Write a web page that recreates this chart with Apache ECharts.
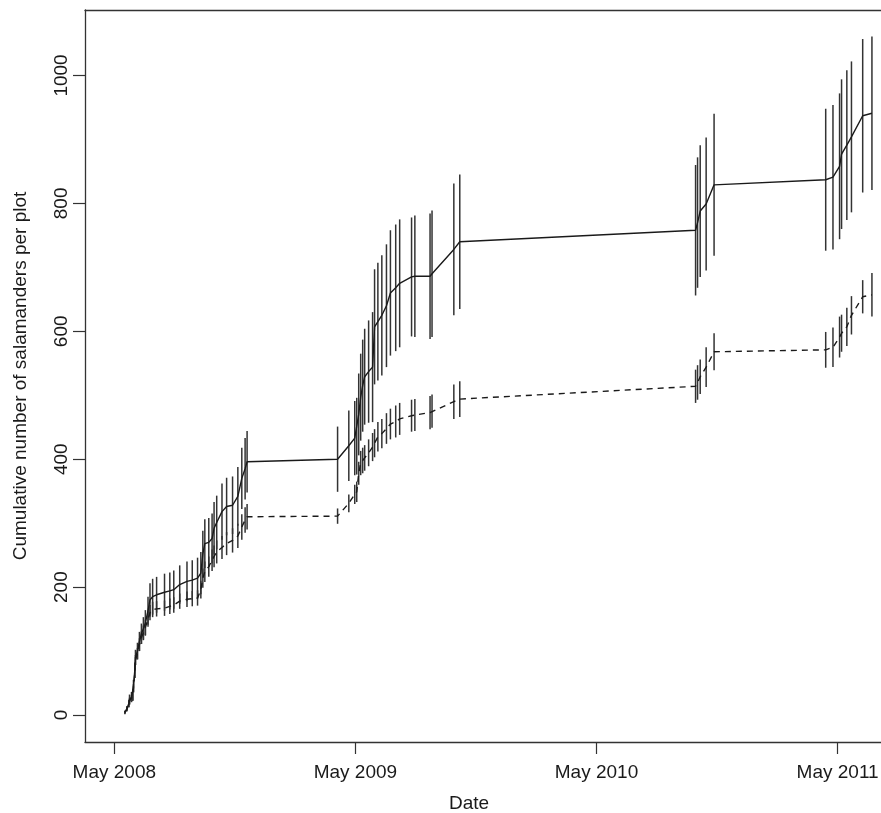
<!DOCTYPE html>
<html><head><meta charset="utf-8">
<script src="https://cdn.jsdelivr.net/npm/echarts@6/dist/echarts.min.js"></script>
<style>html,body{margin:0;padding:0;background:#fff;overflow:hidden}#c{width:881px;height:813px}</style>
</head><body><div id="c"></div>
<script>
// survey dates
const dates = [
'2008-05-17','2008-05-20','2008-05-23','2008-05-24','2008-05-27','2008-05-29','2008-05-30','2008-06-01','2008-06-02','2008-06-05',
'2008-06-08','2008-06-11','2008-06-14','2008-06-17','2008-06-21','2008-06-24','2008-06-28','2008-07-04','2008-07-16','2008-07-24',
'2008-07-30','2008-08-08','2008-08-19','2008-08-27','2008-09-04','2008-09-09','2008-09-12','2008-09-15','2008-09-21','2008-09-26',
'2008-09-29','2008-10-03','2008-10-11','2008-10-18','2008-10-27','2008-11-04','2008-11-10','2008-11-15','2008-11-18',
'2009-04-04','2009-04-21','2009-04-30','2009-05-03','2009-05-06','2009-05-09','2009-05-12','2009-05-15','2009-05-21','2009-05-27',
'2009-05-30','2009-06-04','2009-06-10','2009-06-17','2009-06-23','2009-07-01','2009-07-07','2009-07-25','2009-07-30','2009-08-22',
'2009-08-25','2009-09-27','2009-10-06',
'2010-09-28','2010-10-01','2010-10-05','2010-10-14','2010-10-26',
'2011-04-13','2011-04-24','2011-05-04','2011-05-07','2011-05-15','2011-05-22','2011-06-08','2011-06-22'
];
// solid line series: mean and half-width of error bar
const solidMean = [
4,10,18,24,28,31,45,70,90,100,
115,127,135,144,163,180,185,188,192,194,
196,204,209,211,214,222,252,268,270,276,
292,301,318,326,328,342,370,385,396,
400,421,433,436,470,497,515,529,537,544,
607,615,625,640,660,668,675,685,686,686,
690,728,740,
758,770,788,799,829,
837,841,858,877,891,904,937,941
];
const solidErr = [
3,4,6,8,8,9,10,12,12,13,
15,16,18,20,22,26,28,28,29,29,
30,30,31,31,32,33,36,38,38,39,
41,42,44,45,45,46,48,48,48,
51,55,58,60,64,68,72,75,80,86,
90,92,94,96,98,99,100,93,95,98,
99,103,105,
102,102,103,104,111,
111,113,114,117,117,118,120,120
];
// dashed line series
const dashMean = [
4,9,16,22,26,29,42,66,86,96,
110,121,129,137,150,160,165,166,167,170,
172,178,181,182,183,196,214,224,232,242,
248,255,262,268,273,280,294,305,310,
311,331,345,349,378,394,398,402,410,419,
425,435,440,448,455,459,463,468,469,473,
475,490,494,
514,520,529,544,568,
571,575,591,597,607,625,654,657
];
const dashErr = [
2,3,4,5,5,6,6,8,8,9,
10,10,11,12,12,12,12,12,12,12,
12,12,12,12,12,14,15,16,16,17,
17,18,18,18,19,19,20,20,20,
12,14,15,16,18,19,20,20,21,22,
22,23,23,24,24,25,25,25,25,26,
26,27,28,
26,27,27,31,29,
28,31,32,29,30,30,26,34
];
// axis ticks
const xTickDates = ['2008-05-01','2009-05-01','2010-05-01','2011-05-01'];
const xTickLabels = ['May 2008','May 2009','May 2010','May 2011'];
const yTicks = [0,200,400,600,800,1000];

const DAY = 864e5, T0 = Date.UTC(2008,4,1);
const toDay = s => (Date.parse(s + 'T00:00:00Z') - T0) / DAY;
const xs = dates.map(toDay);
const xTickDays = xTickDates.map(toDay);
const lineData = m => xs.map((x,i)=>[x, m[i]]);
const barData = (m,e) => xs.map((x,i)=>[x, m[i]-e[i], m[i]+e[i]]);

function errRender(params, api){
  const x = api.value(0), lo = api.value(1), hi = api.value(2);
  const p1 = api.coord([x, lo]), p2 = api.coord([x, hi]);
  return {type:'line', shape:{x1:p1[0],y1:p1[1],x2:p2[0],y2:p2[1]},
          style:{stroke:'#333', lineWidth:1.5}};
}

const FONT = 'Liberation Sans, Arial, Helvetica, sans-serif';
const TXT = '#1a1a1a';
const AX = {color:'#333', width:1.3};
const chart = echarts.init(document.getElementById('c'), null, {renderer:'canvas'});
chart.setOption({
  animation:false,
  backgroundColor:'#fff',
  grid:{left:85, top:10, width:816, height:732, outerBoundsMode:'none', containLabel:false, show:false},
  xAxis:[{
    type:'value', min:-44.4, max:1191, position:'bottom',
    name:'Date', nameLocation:'middle', nameGap:52,
    nameTextStyle:{fontFamily:FONT, fontSize:19, color:TXT, padding:[0,48,0,0]},
    axisLine:{show:true, onZero:false, lineStyle:AX},
    splitLine:{show:false},
    axisTick:{show:true, inside:false, length:12, customValues:xTickDays, lineStyle:{color:'#333', width:1.2}},
    axisLabel:{customValues:xTickDays, margin:21, fontFamily:FONT, fontSize:19, color:TXT,
      formatter:v=>{const i=xTickDays.findIndex(d=>Math.abs(d-v)<0.5);return i>=0?xTickLabels[i]:'';}}
  },{
    type:'value', min:-44.4, max:1191, position:'top',
    axisLine:{show:true, onZero:false, lineStyle:AX},
    axisTick:{show:false}, axisLabel:{show:false}, splitLine:{show:false}
  }],
  yAxis:{
    type:'value', min:-42.2, max:1102.4,
    name:'Cumulative number of salamanders per plot', nameLocation:'middle', nameGap:55,
    nameTextStyle:{fontFamily:FONT, fontSize:19, color:TXT},
    axisLine:{show:true, onZero:false, lineStyle:AX},
    splitLine:{show:false},
    axisTick:{show:true, inside:false, length:12, customValues:yTicks, lineStyle:{color:'#333', width:1.2}},
    axisLabel:{customValues:yTicks, rotate:90, margin:14, fontFamily:FONT, fontSize:19, color:TXT,
      formatter:v=>String(Math.round(v))}
  },
  series:[
    {type:'line', data:lineData(solidMean), symbol:'none', lineStyle:{color:'#1a1a1a', width:1.4}, z:3},
    {type:'line', data:lineData(dashMean), symbol:'none', lineStyle:{color:'#1a1a1a', width:1.4, type:[6,5]}, z:3},
    {type:'custom', data:barData(solidMean, solidErr), renderItem:errRender, encode:{x:0, y:[1,2]}, z:2},
    {type:'custom', data:barData(dashMean, dashErr), renderItem:errRender, encode:{x:0, y:[1,2]}, z:2}
  ]
});
</script></body></html>
